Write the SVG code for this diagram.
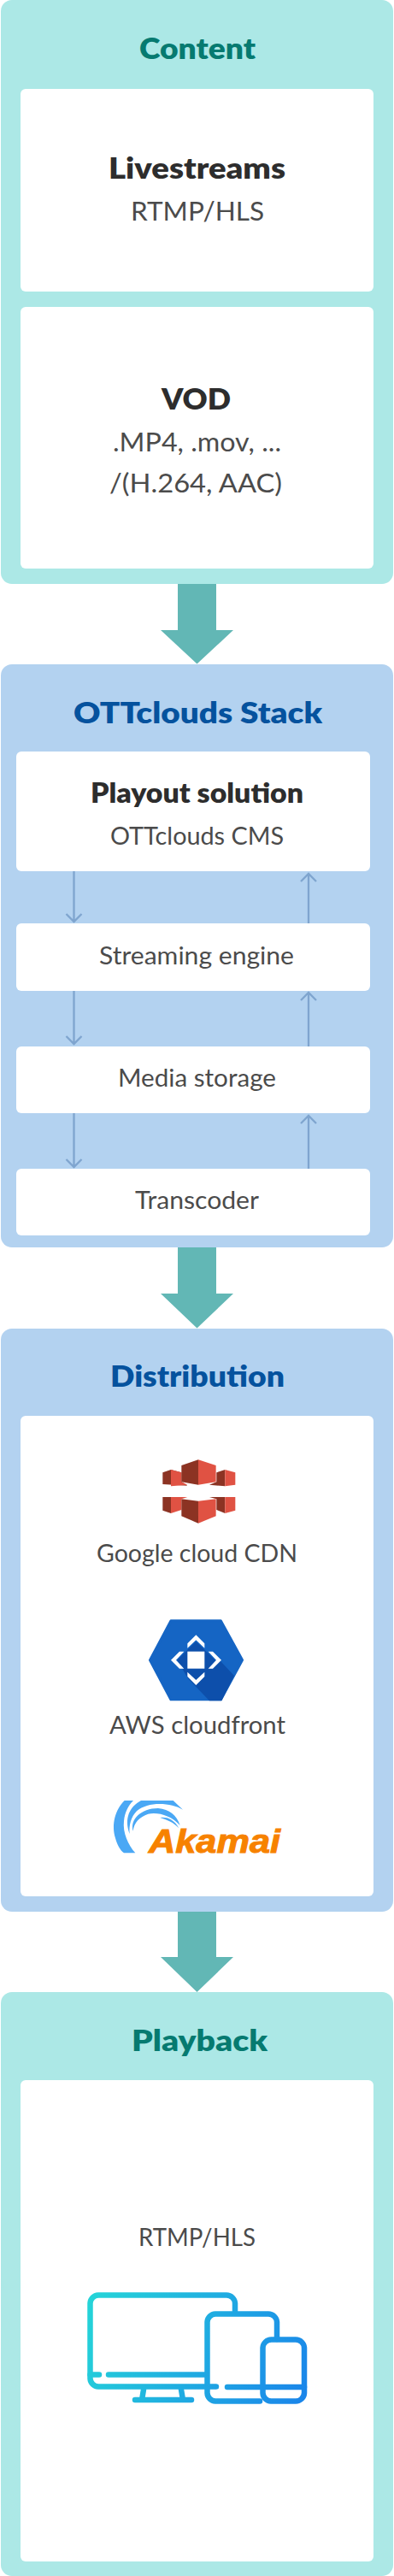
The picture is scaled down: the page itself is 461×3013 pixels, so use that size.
<svg xmlns="http://www.w3.org/2000/svg" width="461" height="3013" viewBox="0 0 461 3013">
<style>
text{font-family:"Lato","Noto Sans",sans-serif}
.teal{fill:#ace8e6}.blue{fill:#b3d2f0}.card{fill:#fff}
.h{font-size:34px;font-weight:800}
.ht{fill:#067a70}.hb{fill:#05529e}
.b{font-size:34px;font-weight:800;fill:#2d2d2d}
.r{font-size:30px;fill:#4b4b4b}
.s{font-size:28px}
.big{fill:#62b7b5}
.thin{fill:none;stroke:#7fa5cf;stroke-width:2.300}
.dev{fill:none;stroke:url(#dg);stroke-width:6.500;stroke-linecap:round;stroke-linejoin:round}
</style>
<defs>
<linearGradient id="dg" gradientUnits="userSpaceOnUse" x1="102" y1="2690" x2="359" y2="2800"><stop offset="0" stop-color="#25d5d8"/><stop offset="1" stop-color="#1a85ea"/></linearGradient>
</defs>
<rect width="461" height="3013" fill="#fff"/>
<g id="connectors">
<path class="big" d="M208,683V737H188L230.500,776.500L273,737H253V683Z"/>
<path class="big" d="M208,1459V1513H188L230.500,1553.500L273,1513H253V1459Z"/>
<path class="big" d="M208,2235V2289H188L230.500,2330L273,2289H253V2235Z"/>
</g>
<g id="content">
<rect class="teal" x="1" y="0" width="459" height="683" rx="13"/>
<text class="h ht" x="163" y="69" textLength="136" lengthAdjust="spacingAndGlyphs">Content</text>
<g id="livestreams"><rect class="card" x="24" y="104" width="413" height="237" rx="6"/>
<text class="b" x="127" y="209" textLength="207" lengthAdjust="spacingAndGlyphs">Livestreams</text>
<text class="r" x="153" y="258" textLength="156" lengthAdjust="spacingAndGlyphs">RTMP/HLS</text></g>
<g id="vod"><rect class="card" x="24" y="359" width="413" height="306" rx="6"/>
<text class="b" x="189" y="479" textLength="81" lengthAdjust="spacingAndGlyphs">VOD</text>
<text class="r" x="132" y="528" textLength="197" lengthAdjust="spacingAndGlyphs">.MP4, .mov, ...</text>
<text class="r" x="128" y="576" textLength="202" lengthAdjust="spacingAndGlyphs">/(H.264, AAC)</text></g>
</g>
<g id="stack">
<rect class="blue" x="1" y="777" width="459" height="682" rx="13"/>
<text class="h hb" x="86" y="846" textLength="291" lengthAdjust="spacingAndGlyphs">OTTclouds Stack</text>
<g id="playout"><rect class="card" x="19" y="879" width="414" height="140" rx="6"/>
<text class="b" x="106" y="939" textLength="249" lengthAdjust="spacingAndGlyphs" style="font-size:32px">Playout solution</text>
<text class="r s" x="129" y="988" textLength="203" lengthAdjust="spacingAndGlyphs">OTTclouds CMS</text></g>
<g id="streaming"><rect class="card" x="19" y="1080" width="414" height="79" rx="6"/>
<text class="r s" x="116" y="1128" textLength="228" lengthAdjust="spacingAndGlyphs">Streaming engine</text></g>
<g id="media"><rect class="card" x="19" y="1224" width="414" height="78" rx="6"/>
<text class="r s" x="138" y="1271" textLength="185" lengthAdjust="spacingAndGlyphs">Media storage</text></g>
<g id="transcoder"><rect class="card" x="19" y="1367" width="414" height="78" rx="6"/>
<text class="r s" x="158" y="1414" textLength="145" lengthAdjust="spacingAndGlyphs">Transcoder</text></g>
</g>
<g id="stack-connectors" class="thin">
<path d="M86.500,1019V1078M77.500,1069L86.500,1078L95.500,1069"/>
<path d="M86.500,1159V1221M77.500,1212L86.500,1221L95.500,1212"/>
<path d="M86.500,1302V1365M77.500,1356L86.500,1365L95.500,1356"/>
<path d="M361,1080V1022M352,1031L361,1022L370,1031"/>
<path d="M361,1224V1161M352,1170L361,1161L370,1170"/>
<path d="M361,1367V1305M352,1314L361,1305L370,1314"/>
</g>
<g id="distribution">
<rect class="blue" x="1" y="1554" width="459" height="682" rx="13"/>
<text class="h hb" x="129" y="1622" textLength="204" lengthAdjust="spacingAndGlyphs">Distribution</text>
<rect class="card" x="24" y="1656" width="413" height="562" rx="6"/>
<g id="google-cdn">
<g transform="translate(130,1690) scale(0.3333)">
<path fill="#8c3323" d="M210,87L181,97V138L268,143L247,130V97Z"/>
<path fill="#e05243" d="M210,87L247,97V130L268,140L210,145Z"/>
<path fill="#8c3323" d="M400,87L370,97V130L345,140L400,145Z"/>
<path fill="#e05243" d="M400,87L436,97V140L400,145Z"/>
<path fill="#8c3323" d="M306,52L247,72V130L306,140Z"/>
<path fill="#e05243" d="M306,52L368,72V130L306,140Z"/>
<path fill="#8c3323" d="M181,183H210V240L181,230Z"/>
<path fill="#e05243" d="M210,183H268L247,190V228L210,240Z"/>
<path fill="#8c3323" d="M345,183H400V240L370,228V190Z"/>
<path fill="#e05243" d="M400,183H436V230L400,240Z"/>
<path fill="#8c3323" d="M247,190L306,197V275L247,250Z"/>
<path fill="#e05243" d="M306,197L368,190V250L306,275Z"/>
</g>
<text class="r s" x="113" y="1827" textLength="235" lengthAdjust="spacingAndGlyphs">Google cloud CDN</text>
</g>
<g id="aws-cloudfront">
<g transform="translate(130,1880) scale(0.3333)">
<path fill="#1565c4" stroke="#1565c4" stroke-width="10" stroke-linejoin="round" d="M210,48H385L460,185L385,323H210L137,185Z"/>
<path fill="#0d4fab" d="M298,120L365,185L385,190L432,240L388,328H345L270,250L232,185Z"/>
<rect x="268" y="155" width="60" height="60" fill="#fff"/>
<path fill="#fff" d="M298,97L328,127V143L298,115L268,143V127ZM298,273L328,243V227L298,255L268,227V243ZM210,185L240,155H256L228,185L256,215H240ZM387,185L357,155H341L369,185L341,215H357Z"/>
</g>
<text class="r s" x="128" y="2028" textLength="206" lengthAdjust="spacingAndGlyphs">AWS cloudfront</text>
</g>
<g id="akamai">
<g transform="translate(110,2090) scale(0.3333)" fill="#4aa8f5">
<path d="M107,48C75,80 60,130 75,180C82,205 92,222 105,232H145C120,205 100,160 105,120C108,90 120,65 138,48Z"/>
<path d="M125,165C105,110 125,70 165,48H278L312,80C270,55 190,50 150,85C130,105 122,135 125,165Z"/>
<path d="M137,155C125,115 165,75 225,75C265,78 290,100 302,135C270,100 225,88 190,95C160,105 140,125 137,155Z"/>
<path d="M232,108C255,105 280,112 298,145C280,125 255,115 232,108Z"/>
</g>
<text x="174" y="2167" textLength="154" lengthAdjust="spacingAndGlyphs" style="font-family:'Liberation Sans',sans-serif;font-size:38px;font-weight:700;font-style:italic;fill:#f78200;stroke:#f78200;stroke-width:1">Akamai</text>
</g>
</g>
<g id="playback">
<rect class="teal" x="1" y="2330" width="459" height="683" rx="13"/>
<text class="h ht" x="154" y="2399" textLength="159" lengthAdjust="spacingAndGlyphs">Playback</text>
<rect class="card" x="24" y="2433" width="413" height="563" rx="6"/>
<text class="r s" x="162" y="2627" textLength="137" lengthAdjust="spacingAndGlyphs">RTMP/HLS</text>
<g id="devices" class="dev">
<path d="M275,2703V2694A10,10 0 0 0 265,2684.500H115A10,10 0 0 0 105.500,2694V2782A10,10 0 0 0 115,2791.500H253"/>
<path d="M105.500,2777.500H116M127,2777.500H240"/>
<path d="M168,2795L166,2807M212,2795L214,2807M158,2807H224"/>
<path d="M304,2808.500H252A10,10 0 0 1 242.500,2799V2716A10,10 0 0 1 252,2706.500H314A10,10 0 0 1 324,2716V2736"/>
<path d="M266,2792H356"/>
<path d="M317.500,2736.500H346A10,10 0 0 1 356,2746V2799A10,10 0 0 1 346,2808.500H317A10,10 0 0 1 307.500,2799V2746A10,10 0 0 1 317.500,2736.500Z"/>
</g>
</g>
</svg>
